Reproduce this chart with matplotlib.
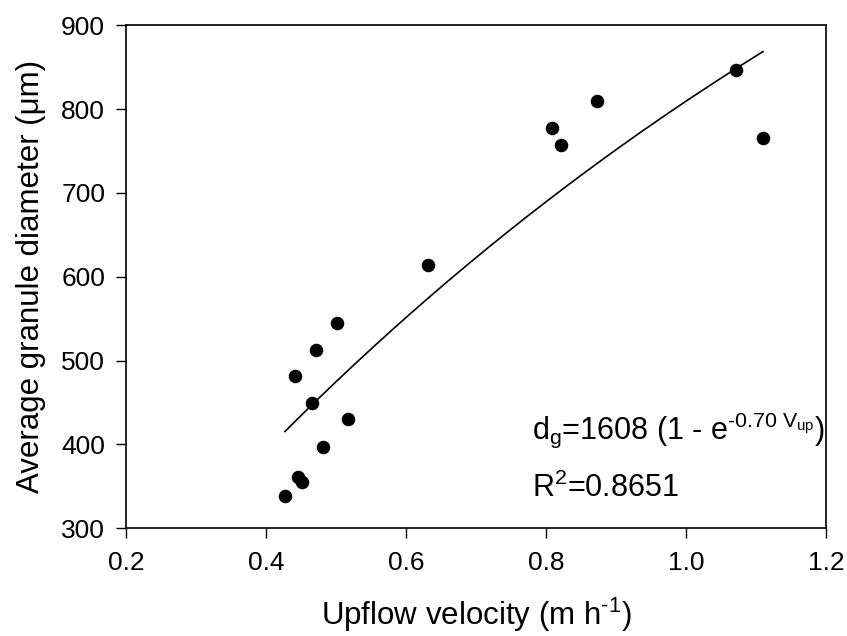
import matplotlib
matplotlib.use("Agg")
import matplotlib.pyplot as plt
import numpy as np

plt.rcParams["font.family"] = ["Liberation Sans", "DejaVu Sans"]
plt.rcParams["mathtext.fontset"] = "custom"
plt.rcParams["mathtext.rm"] = "Liberation Sans"
plt.rcParams["mathtext.it"] = "Liberation Sans"
plt.rcParams["mathtext.bf"] = "Liberation Sans:bold"

# measured points: upflow velocity (m/h) vs average granule diameter (um)
velocity = [0.427, 0.441, 0.446, 0.452, 0.466, 0.472, 0.481, 0.501, 0.517,
            0.631, 0.808, 0.822, 0.873, 1.071, 1.110]
diameter = [338, 482, 361, 355, 450, 513, 397, 545, 430,
            614, 777, 757, 810, 847, 765]

# fitted model d_g = A (1 - exp(-k V_up)), drawn over the data range
fit_A = 1608
fit_k = 0.70
fit_range = (0.427, 1.110)
r_squared = 0.8651

fig = plt.figure(figsize=(8.47, 6.36), dpi=100)
ax = fig.add_axes([0.1488, 0.1693, 0.8264, 0.7909])

ax.scatter(velocity, diameter, s=95, color="black", zorder=3, linewidths=0)

v = np.linspace(fit_range[0], fit_range[1], 200)
ax.plot(v, fit_A * (1 - np.exp(-fit_k * v)), color="black", lw=1.2)

ax.set_xlim(0.2, 1.2)
ax.set_ylim(300, 900)
ax.set_xticks([0.2, 0.4, 0.6, 0.8, 1.0, 1.2])
ax.set_xticklabels(["0.2", "0.4", "0.6", "0.8", "1.0", "1.2"])
ax.set_yticks(range(300, 901, 100))
ax.tick_params(direction="out", length=7, width=1, labelsize=19,
               top=False, right=False)
ax.tick_params(axis="x", pad=9)
ax.tick_params(axis="y", pad=8)
for s in ax.spines.values():
    s.set_linewidth(1.2)

ax.set_xlabel(r"Upflow velocity (m h$^{\text{-}\mathregular{1}}$)",
              fontsize=22.5, labelpad=15)
ax.set_ylabel("Average granule diameter (\u03bcm)", fontsize=22.5, labelpad=11)

ax.text(0.58, 0.177,
        r"d$_{\mathregular{g}}$=%d (1 - e$^{\text{-}\mathregular{%.2f\ V_{up}}}$)"
        % (fit_A, fit_k),
        transform=ax.transAxes, fontsize=22, ha="left", va="baseline")
ax.text(0.58, 0.063, r"R$^{\mathregular{2}}$=%.4f" % r_squared,
        transform=ax.transAxes, fontsize=22, ha="left", va="baseline")

fig.savefig("out.png", dpi=100)
